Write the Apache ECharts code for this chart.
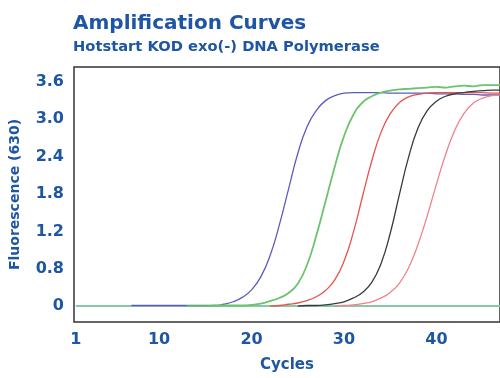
<!DOCTYPE html>
<html><head><meta charset="utf-8">
<script src="https://cdn.jsdelivr.net/npm/echarts@6/dist/echarts.min.js"></script>
<style>html,body{margin:0;padding:0;background:#fff}#c{width:500px;height:378px}</style>
</head><body><div id="c"></div>
<script>
const titleText = 'Amplification Curves';
const subtitleText = 'Hotstart KOD exo(-) DNA Polymerase';
const xTickValues = [1, 10, 20, 30, 40];
const yTickValues = [0, 0.6, 1.2, 1.8, 2.4, 3.0, 3.6];
const yTickLabels = ['0', '0.8', '1.2', '1.8', '2.4', '3.0', '3.6'];

const negStart = 1;
const negValues = [0,0,0,0,0,0,0,0,0,0,0,0,0,0,0,0,0,0,0,0,0,0,0,0,0,0,0,0,0,0,0,0,0,0,0,0,0,0,0,0,0,0,0,0,0,0,0];
const blueStart = 7;
const blueValues = [0.01,0.01,0.01,0.01,0.01,0.01,0.01,0.01,0.01,0.01,0.03,0.07,0.14,0.26,0.47,0.81,1.30,1.88,2.45,2.88,3.14,3.30,3.38,3.42,3.43,3.43,3.43,3.43,3.42,3.42,3.42,3.42,3.42,3.41,3.41,3.41,3.40,3.40,3.39,3.39,3.39];
const greenStart = 13;
const greenValues = [0.00,0.00,0.00,0.01,0.01,0.01,0.01,0.02,0.04,0.08,0.13,0.21,0.36,0.66,1.13,1.68,2.24,2.73,3.07,3.27,3.37,3.43,3.46,3.48,3.49,3.50,3.51,3.52,3.51,3.53,3.54,3.53,3.55,3.55,3.55];
const redStart = 22;
const redValues = [0.00,0.01,0.03,0.05,0.09,0.15,0.25,0.42,0.72,1.18,1.76,2.33,2.79,3.09,3.27,3.36,3.40,3.42,3.43,3.43,3.43,3.43,3.43,3.43,3.42,3.42];
const blackStart = 25;
const blackValues = [0.00,0.01,0.01,0.02,0.04,0.07,0.13,0.22,0.38,0.68,1.17,1.80,2.40,2.86,3.14,3.29,3.37,3.41,3.43,3.45,3.46,3.47,3.47];
const pinkStart = 29;
const pinkValues = [0.00,0.01,0.02,0.04,0.07,0.13,0.22,0.37,0.62,0.99,1.45,1.96,2.44,2.83,3.10,3.26,3.34,3.38,3.39];

function pts(start, vals){ return vals.map((v,i)=>[start+i, v]); }
const blue = '#1f56a3';
const font = 'DejaVu Sans';
function line(name, start, vals, color, width){
  return {name, type:'line', data: pts(start, vals), showSymbol:false, smooth:0.5,
    lineStyle:{color, width}, itemStyle:{color}, animation:false};
}
const chart = echarts.init(document.getElementById('c'), null, {renderer:'canvas'});
chart.setOption({
  animation:false,
  title:{text:titleText, subtext:subtitleText, left:68, top:9, itemGap:6,
    textStyle:{fontFamily:font, fontWeight:'bold', fontSize:20, color:blue},
    subtextStyle:{fontFamily:font, fontWeight:'bold', fontSize:14.7, color:blue}},
  grid:{left:73, right:-3, top:67, bottom:54, show:true, borderColor:'#333', borderWidth:1.5, backgroundColor:'#fff'},
  xAxis:{type:'value', min:0.8, max:46.87, name:'Cycles', nameLocation:'middle', nameGap:36,
    nameTextStyle:{fontFamily:font, fontWeight:'bold', fontSize:15, color:blue},
    axisLine:{show:false}, axisTick:{show:false}, splitLine:{show:false},
    axisLabel:{customValues:xTickValues, fontFamily:font, fontWeight:'bold', fontSize:16, color:blue, margin:10}},
  yAxis:{type:'value', min:-0.255, max:3.84, name:'Fluorescence (630)', nameLocation:'middle', nameGap:52,
    nameTextStyle:{fontFamily:font, fontWeight:'bold', fontSize:14, color:blue},
    axisLine:{show:false}, axisTick:{show:false}, splitLine:{show:false},
    axisLabel:{customValues:yTickValues, formatter:(v)=>{const i=yTickValues.findIndex(t=>Math.abs(t-v)<1e-6);return i>=0?yTickLabels[i]:'';},
      fontFamily:font, fontWeight:'bold', fontSize:16, color:blue, margin:10}},
  series:[
    line('neg', negStart, negValues, '#86c9a6', 2),
    line('blue', blueStart, blueValues, '#5c5cbf', 1.3),
    line('green', greenStart, greenValues, '#6cc46c', 1.8),
    line('red', redStart, redValues, '#e2564e', 1.3),
    line('black', blackStart, blackValues, '#3a3a3a', 1.3),
    line('pink', pinkStart, pinkValues, '#f08289', 1.3)
  ]
});
</script></body></html>
